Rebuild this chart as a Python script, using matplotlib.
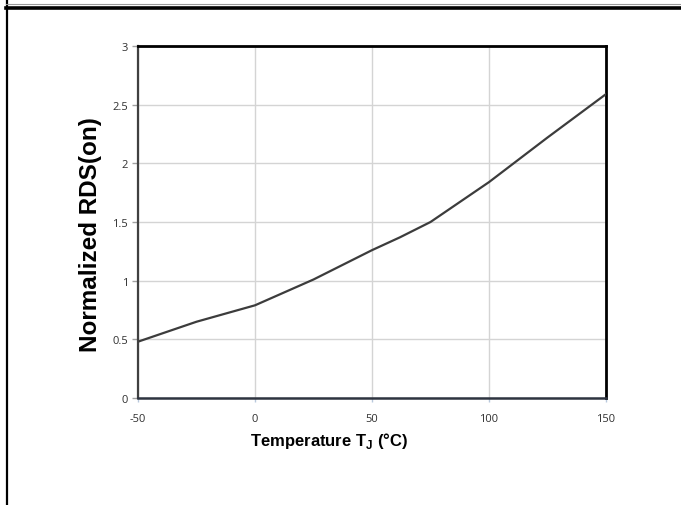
import matplotlib
matplotlib.use("Agg")
import matplotlib.pyplot as plt
from matplotlib.lines import Line2D

# ── Data ────────────────────────────────────────────────────────────────────
temp_c = [-50, -25, 0, 25, 50, 62, 75, 100, 125, 150]
rds_norm = [0.48, 0.65, 0.79, 1.01, 1.26, 1.37, 1.50, 1.84, 2.22, 2.59]

x_ticks = [-50, 0, 50, 100, 150]
y_ticks = [0, 0.5, 1, 1.5, 2, 2.5, 3]
y_tick_labels = ["0", "0.5", "1", "1.5", "2", "2.5", "3"]

# ── Style ───────────────────────────────────────────────────────────────────
plt.rcParams.update({
    "font.family": ["Liberation Sans", "DejaVu Sans"],
    "axes.unicode_minus": False,
    "mathtext.fontset": "custom",
    "mathtext.bf": "Liberation Sans:bold",
    "mathtext.rm": "Liberation Sans",
})

W, H = 681, 506
fig = plt.figure(figsize=(W / 100, H / 100), dpi=100, facecolor="white")
ax = fig.add_axes([138 / W, 1 - 399 / H, (606 - 138) / W, (399 - 47) / H])

ax.plot(temp_c, rds_norm, color="#3c3c3c", linewidth=1.6, zorder=3)

ax.set_xlim(-50, 150)
ax.set_ylim(0, 3)
ax.set_xticks(x_ticks)
ax.set_yticks(y_ticks)
ax.set_yticklabels(y_tick_labels)
ax.grid(True, color="#d4d4d4", linewidth=1.0, zorder=0)

for lbl in ax.get_xticklabels() + ax.get_yticklabels():
    lbl.set_fontfamily("Open Sans")
    lbl.set_fontsize(8)
    lbl.set_color("#303030")

ax.tick_params(axis="y", length=4, width=1, color="#a0a0a0", pad=3)
ax.tick_params(axis="x", length=3, width=1, color="#b8c8dc", pad=8)

ax.spines["top"].set_color("black")
ax.spines["top"].set_linewidth(2.0)
ax.spines["right"].set_color("black")
ax.spines["right"].set_linewidth(2.0)
ax.spines["left"].set_color("#404040")
ax.spines["left"].set_linewidth(1.6)
ax.spines["bottom"].set_color("#2e3440")
ax.spines["bottom"].set_linewidth(1.8)

# ── Axis titles ─────────────────────────────────────────────────────────────
fig.text(90 / W, 1 - 235 / H, "Normalized RDS(on)", rotation=90,
         ha="center", va="center", fontsize=17.5, fontweight="bold", color="black")
fig.text(329 / W, 1 - 441 / H, r"Temperature T$_\mathbf{J}$ (°C)",
         ha="center", va="center", fontsize=12, fontweight="bold", color="black")

# ── Page frame ──────────────────────────────────────────────────────────────
fig.add_artist(Line2D([6.5 / W, 6.5 / W], [0, 1], transform=fig.transFigure,
                      color="black", linewidth=1.6))
fig.add_artist(Line2D([6 / W, 1], [1 - 8.8 / H, 1 - 8.8 / H], transform=fig.transFigure,
                      color="black", linewidth=2.6))
fig.add_artist(Line2D([6 / W, 1], [1 - 5 / H, 1 - 5 / H], transform=fig.transFigure,
                      color="#9a9a9a", linewidth=0.8))

fig.savefig("out.png", dpi=100, facecolor="white")
